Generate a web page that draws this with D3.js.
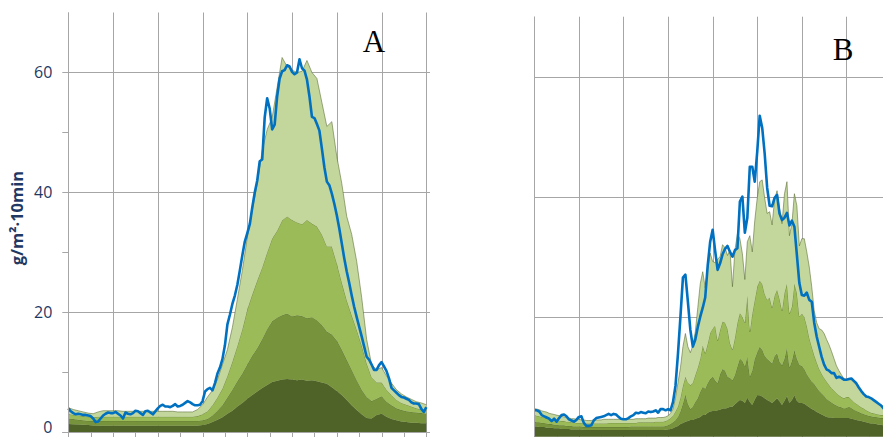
<!DOCTYPE html>
<html lang="en">
<head>
<meta charset="UTF-8">
<title>Deposition A / B</title>
<script src="https://d3js.org/d3.v7.min.js"></script>
<style>
  body { margin: 0; background: #fff; }
  svg { display: block; }
</style>
</head>
<body>
<div id="chart"></div>
<script>
// ---------- data ----------
var yTicks = [0, 20, 40, 60];
var yLabel = "g/m\u00B2\u00B710min";
var panelNames = ["A", "B"];

// panel A: measured flux (blue line), one value per step
var aMeasured = [
  4.0,3.5,3.2,3.0,3.1,3.0,2.9,2.9,2.8,2.7,
  2.3,1.7,1.8,2.3,2.8,3.1,3.3,3.2,3.2,3.4,
  3.1,2.8,2.3,3.3,3.1,3.0,3.2,3.6,3.5,3.2,
  2.9,3.5,3.6,3.3,3.0,3.5,4.0,4.4,4.6,4.3,
  4.3,4.2,4.4,4.7,4.3,4.4,4.6,4.9,5.2,5.0,
  4.7,4.5,4.5,4.6,5.2,6.8,7.2,7.4,7.0,8.2,
  9.8,10.8,12.2,14.5,18.0,19.6,21.4,22.8,24.6,27.0,
  29.5,31.8,33.2,34.7,37.5,40.0,42.0,45.2,45.5,52.5,
  55.7,54.0,50.5,51.3,56.0,59.0,60.2,60.4,61.2,61.0,
  60.1,59.7,60.0,62.2,60.7,60.3,58.8,56.0,52.6,52.4,
  51.4,50.3,47.3,44.2,41.8,41.2,39.8,38.1,36.2,34.0,
  31.5,29.0,26.8,24.9,22.8,20.9,19.2,17.6,16.0,14.3,
  12.6,12.1,11.3,10.4,10.4,11.2,11.7,11.0,10.2,9.0,
  7.4,7.0,6.6,6.2,5.9,5.8,5.6,5.4,5.0,4.8,
  4.8,4.7,3.9,3.4,4.2
];

// panel A: stacked bands, level of each band top (every second step)
var aBand1 = [
  1.4,1.35,1.3,1.25,1.2,1.15,1.1,1.1,1.1,1.1,
  1.1,1.1,1.1,1.1,1.1,1.1,1.1,1.1,1.1,1.1,
  1.1,1.1,1.1,1.1,1.1,1.1,1.1,1.2,1.4,1.7,
  2.1,2.5,3.1,3.6,4.3,4.9,5.6,6.2,6.8,7.4,
  7.9,8.4,8.6,8.8,8.9,8.8,8.7,8.8,8.6,8.7,
  8.5,8.3,8.1,7.5,6.9,6.2,5.4,4.5,3.7,3.0,
  2.4,2.3,2.9,3.1,2.6,2.2,2.0,1.8,1.7,1.6,
  1.6,1.5,1.5
];
var aBand2 = [
  2.3,2.2,2.1,2.0,1.9,1.9,1.9,1.9,1.9,1.9,
  1.9,1.9,1.9,1.9,1.9,1.9,1.9,1.9,1.9,1.9,
  1.9,1.9,1.9,1.9,1.9,1.9,1.9,2.0,2.2,2.8,
  3.6,4.5,5.8,7.1,8.5,9.8,11.3,12.8,14.0,15.5,
  17.2,18.5,19.1,19.5,19.8,19.3,19.5,19.4,19.0,19.2,
  18.7,17.9,16.8,16.3,15.3,13.8,12.1,10.4,8.7,7.1,
  5.9,5.2,5.6,6.0,5.1,4.5,4.0,3.7,3.5,3.4,
  3.3,3.2,3.1
];
var aBand3 = [
  3.1,2.9,2.8,2.7,2.6,2.5,2.6,2.6,2.6,2.6,
  2.6,2.6,2.6,2.6,2.6,2.6,2.6,2.6,2.6,2.6,
  2.6,2.6,2.6,2.6,2.6,2.6,2.7,3.0,3.5,4.5,
  5.8,7.3,9.4,11.8,14.4,17.2,20.5,23.0,25.3,27.5,
  30.0,32.3,33.6,35.3,36.0,35.4,35.0,34.7,35.4,34.8,
  34.3,33.0,31.0,31.0,28.2,25.0,22.0,19.5,17.1,14.5,
  11.5,9.2,8.3,8.3,7.1,6.2,5.4,4.9,4.6,4.3,
  4.0,3.8,3.7
];
var aBand4 = [
  4.1,3.8,3.6,3.4,3.2,3.1,3.4,3.6,3.6,3.6,
  3.6,3.5,3.5,3.5,3.5,3.5,3.5,3.5,3.5,3.5,
  3.5,3.5,3.4,3.4,3.4,3.4,3.8,4.6,5.9,7.0,
  8.8,11.3,13.8,17.5,22.2,27.0,32.5,37.0,41.5,47.0,
  50.5,52.5,57.5,62.5,61.0,60.4,60.0,60.2,62.0,60.0,
  59.0,55.0,51.0,51.8,46.0,41.5,36.0,33.0,28.5,22.5,
  15.5,11.3,10.4,10.8,9.4,8.2,7.1,6.4,5.9,5.5,
  5.1,4.9,4.6
];

// panel B: measured flux
var bMeasured = [
  4.4,4.4,4.2,3.6,3.4,3.2,3.0,2.6,3.0,2.5,
  3.1,3.6,3.7,3.4,2.9,2.7,2.5,2.8,3.3,3.4,
  2.3,1.8,1.8,1.9,2.7,3.1,3.2,3.3,3.4,3.6,
  3.8,3.6,3.8,3.7,3.3,3.0,2.9,2.9,3.1,3.4,
  3.6,4.0,3.9,4.1,4.0,3.9,4.2,4.1,4.2,4.4,
  4.0,4.6,4.6,4.4,4.6,4.4,5.8,8.5,13.8,20.0,
  26.5,27.0,22.5,17.8,15.0,16.2,18.3,20.0,21.5,23.2,
  28.5,32.5,34.5,31.0,27.8,28.9,30.4,31.3,31.8,30.8,
  30.0,31.1,31.4,39.2,40.0,34.0,36.5,45.0,45.0,42.5,
  47.5,53.5,51.5,47.2,41.5,38.5,38.4,39.8,40.3,37.2,
  36.1,36.5,37.3,35.2,36.0,35.0,30.3,25.6,23.6,23.5,
  24.0,22.8,22.5,19.0,16.7,15.0,13.3,12.0,11.2,11.0,
  10.6,10.6,9.8,10.0,9.8,9.5,9.5,9.6,9.7,9.3,
  8.9,8.2,7.6,7.1,6.7,6.6,6.4,6.1,5.8,5.5,
  5.2,4.7,4.4,4.2,4.0
];

// panel B: stacked bands, level of each band top (every step)
var bBand1 = [
  1.7,1.7,1.6,1.6,1.6,1.5,1.5,1.5,1.4,1.4,
  1.4,1.3,1.3,1.3,1.3,1.2,1.2,1.2,1.2,1.2,
  1.1,1.1,1.1,1.1,1.1,1.1,1.1,1.1,1.1,1.1,
  1.1,1.1,1.1,1.1,1.1,1.1,1.1,1.1,1.1,1.1,
  1.1,1.1,1.1,1.1,1.1,1.1,1.1,1.1,1.1,1.1,
  1.1,1.1,1.1,1.15,1.2,1.3,1.4,
  1.6,1.8,2.1,2.3,2.5,2.6,2.8,2.8,3.0,3.1,
  3.3,3.6,3.6,4.0,4.2,4.3,4.3,4.4,4.5,4.7,
  4.7,4.8,5.0,5.0,5.4,5.8,6.1,6.0,5.6,6.5,
  5.8,5.3,6.2,6.9,6.9,6.7,6.4,6.1,5.9,5.6,
  6.0,6.4,5.9,5.3,6.0,6.8,5.6,6.1,6.9,6.0,
  5.6,5.6,5.5,5.2,4.9,4.6,4.4,4.1,3.9,3.7,
  3.5,3.3,3.2,3.2,3.1,3.1,3.1,3.1,3.1,3.1,
  3.1,3.0,2.9,2.8,2.7,2.6,2.5,2.4,2.3,2.2,
  2.2,2.1,2.0,2.0,1.9,1.9,1.9,1.8
];
var bBand2 = [
  2.5,2.4,2.4,2.3,2.3,2.2,2.1,2.1,2.0,2.0,
  1.9,1.9,1.9,1.8,1.8,1.8,1.7,1.7,1.7,1.7,
  1.6,1.6,1.6,1.6,1.6,1.6,1.6,1.6,1.6,1.6,
  1.6,1.6,1.6,1.6,1.6,1.6,1.6,1.6,1.6,1.7,
  1.7,1.7,1.7,1.7,1.7,1.7,1.7,1.7,1.7,1.7,
  1.7,1.7,1.7,1.8,1.9,2.1,2.4,
  2.8,3.3,4.2,5.5,7.0,5.5,4.6,5.0,5.8,6.4,
  7.5,8.3,8.0,8.9,9.6,10.0,9.4,8.9,10.4,11.3,
  11.0,10.0,9.8,9.4,10.3,11.7,13.0,12.6,11.7,13.3,
  10.0,11.0,13.0,14.0,15.0,14.5,13.5,13.0,12.6,12.2,
  13.4,13.9,12.5,11.9,13.0,14.8,11.5,12.6,14.4,13.0,
  12.0,11.8,11.3,10.4,9.8,9.2,8.8,8.2,7.6,7.2,
  6.8,6.3,6.0,5.7,5.4,5.2,5.0,4.9,4.7,4.8,
  5.0,4.8,4.5,4.3,4.1,3.9,3.8,3.6,3.5,3.4,
  3.3,3.3,3.2,3.1,3.1,3.0,3.0,3.0
];
var bBand3 = [
  3.6,3.5,3.4,3.3,3.2,3.1,3.0,2.9,2.8,2.8,
  2.7,2.6,2.6,2.5,2.5,2.4,2.4,2.3,2.3,2.3,
  2.2,2.2,2.2,2.2,2.2,2.2,2.2,2.2,2.2,2.2,
  2.3,2.3,2.3,2.3,2.3,2.3,2.3,2.3,2.3,2.3,
  2.3,2.3,2.4,2.4,2.4,2.4,2.4,2.4,2.4,2.5,
  2.5,2.5,2.5,2.6,2.8,3.1,3.5,
  4.2,5.0,6.5,8.5,10.0,9.0,8.6,9.0,10.3,11.5,
  13.0,15.2,13.9,15.5,17.3,18.0,18.5,16.0,17.8,19.2,
  19.0,18.0,15.6,14.5,16.5,19.0,20.6,20.0,19.0,23.5,
  17.5,20.5,22.8,25.0,26.0,25.5,23.8,22.8,23.2,21.5,
  23.5,24.5,23.0,21.0,24.0,25.5,20.5,21.7,25.5,24.0,
  20.0,20.5,20.0,18.5,16.5,15.0,13.6,12.4,11.3,10.5,
  9.8,9.2,8.6,8.1,7.7,7.3,6.9,6.6,6.4,6.6,
  6.6,6.2,5.8,5.5,5.2,4.9,4.7,4.4,4.2,4.0,
  3.9,3.8,3.7,3.6,3.6,3.5,3.5,3.4
];
var bBand4 = [
  4.7,4.6,4.5,4.3,4.2,4.1,3.9,3.8,3.7,3.6,
  3.5,3.4,3.3,3.2,3.1,3.0,3.0,2.9,2.9,2.8,
  2.8,2.7,2.7,2.7,2.8,2.8,2.8,2.8,2.9,2.9,
  2.9,2.9,2.9,2.9,2.9,2.9,2.9,2.9,2.9,2.9,
  2.9,3.0,3.0,3.0,3.0,3.0,3.1,3.1,3.1,3.1,
  3.2,3.2,3.2,3.3,3.5,3.9,4.6,
  6.5,9.0,11.5,15.0,17.2,15.0,14.0,15.2,17.5,21.5,
  25.5,27.5,24.8,28.0,30.6,29.2,29.0,29.6,30.0,32.0,
  31.5,30.2,31.1,25.0,31.1,33.8,33.0,30.5,26.2,32.5,
  33.5,30.8,36.0,39.8,42.5,42.8,39.8,37.2,37.5,35.3,
  39.5,41.0,38.0,35.5,40.5,42.5,33.5,35.5,40.5,38.5,
  31.8,33.0,33.0,30.8,28.3,25.0,21.0,19.0,18.0,17.8,
  17.2,16.2,15.3,14.2,13.0,11.8,11.0,10.3,9.7,9.5,
  9.5,9.5,9.1,8.7,8.2,7.6,7.1,6.8,6.6,6.4,
  6.1,5.7,5.5,5.2,5.0,4.8,4.6,4.5
];

// ---------- drawing ----------
var width = 883, height = 437;
var bandColors = ["#4f6228", "#77933c", "#9bbb59", "#c3d69b"];
var gridColor = "#a6a6a6";
var textColor = "#1f3864";
var steps = 144;

var svg = d3.select("#chart").append("svg")
    .attr("width", width)
    .attr("height", height);

function drawPanel(p) {
  var x = d3.scaleLinear().domain([0, steps]).range([p.left, p.right]);
  var y = d3.scaleLinear().domain([0, 70]).range([p.bottom, p.top]);
  var g = svg.append("g");

  // vertical grid every 18 steps
  g.selectAll(".vgrid")
    .data(d3.range(0, steps + 1, 18))
    .enter().append("line")
      .attr("x1", function(d) { return Math.round(x(d)) + 0.5; })
      .attr("x2", function(d) { return Math.round(x(d)) + 0.5; })
      .attr("y1", p.top)
      .attr("y2", p.bottom + 5)
      .style("stroke", gridColor)
      .style("stroke-width", 1);

  // minor x ticks
  g.selectAll(".xminor")
    .data(d3.range(9, steps, 18))
    .enter().append("line")
      .attr("x1", function(d) { return Math.round(x(d)) + 0.5; })
      .attr("x2", function(d) { return Math.round(x(d)) + 0.5; })
      .attr("y1", p.bottom)
      .attr("y2", p.bottom + 5)
      .style("stroke", gridColor);

  // horizontal grid
  g.selectAll(".hgrid")
    .data(yTicks.slice(1))
    .enter().append("line")
      .attr("x1", p.left)
      .attr("x2", p.gridRight)
      .attr("y1", function(d) { return Math.round(y(d)) + 0.5; })
      .attr("y2", function(d) { return Math.round(y(d)) + 0.5; })
      .style("stroke", gridColor);

  // stacked bands
  var bands = p.bands;
  bands.forEach(function(band, k) {
    var lower = k === 0 ? null : bands[k - 1];
    var n = band.length;
    var pts = band.map(function(v, i) {
      return { t: i * steps / (n - 1), y0: lower ? lower[i] : 0, y1: v };
    });
    var area = d3.area()
      .x(function(d) { return x(d.t); })
      .y0(function(d) { return y(d.y0); })
      .y1(function(d) { return y(d.y1); });
    g.append("path")
      .datum(pts)
      .attr("d", area)
      .style("fill", bandColors[k])
      .style("stroke", "none");
    var edge = d3.line()
      .x(function(d) { return x(d.t); })
      .y(function(d) { return y(d.y1); });
    g.append("path")
      .datum(pts)
      .attr("d", edge)
      .style("fill", "none")
      .style("stroke", "#4f6228")
      .style("stroke-opacity", 0.75)
      .style("stroke-width", 0.7);
  });

  // measured line
  var m = p.measured;
  var line = d3.line()
    .x(function(d, i) { return x(i * steps / (m.length - 1)); })
    .y(function(d) { return y(d); });
  g.append("path")
    .datum(m)
    .attr("d", line)
    .style("fill", "none")
    .style("stroke", "#0070c0")
    .style("stroke-width", 2.6)
    .style("stroke-linejoin", "round");

  // axes lines
  g.append("line")
    .attr("x1", Math.round(p.left) + 0.5).attr("x2", Math.round(p.left) + 0.5)
    .attr("y1", p.top).attr("y2", p.bottom)
    .style("stroke", gridColor);
  g.append("line")
    .attr("x1", p.left - 6).attr("x2", p.gridRight)
    .attr("y1", Math.round(p.bottom) + 0.5).attr("y2", Math.round(p.bottom) + 0.5)
    .style("stroke", gridColor);

  if (p.showY) {
    g.selectAll(".ytick")
      .data(d3.range(0, 70, 10))
      .enter().append("line")
        .attr("x1", p.left - 6)
        .attr("x2", p.left)
        .attr("y1", function(d) { return Math.round(y(d)) + 0.5; })
        .attr("y2", function(d) { return Math.round(y(d)) + 0.5; })
        .style("stroke", gridColor);
    // the 0 label sits at the picture's bottom edge: lift it so it stays whole
    g.selectAll(".ylab")
      .data(yTicks)
      .enter().append("text")
        .attr("x", p.left - 16)
        .attr("y", function(d) { return d === 0 ? y(d) - 5.5 : y(d); })
        .attr("dy", "0.36em")
        .attr("text-anchor", "end")
        .style("font-family", "'Open Sans', sans-serif")
        .style("font-size", "16px")
        .style("fill", textColor)
        .text(function(d) { return d; });
    g.append("text")
      .attr("transform", "translate(23," + 218 + ") rotate(-90)")
      .attr("text-anchor", "middle")
      .style("font-family", "'Open Sans', sans-serif")
      .style("font-weight", "bold")
      .style("font-size", "16.5px")
      .style("fill", textColor)
      .text(yLabel);
  }

  g.append("text")
    .attr("x", p.nameX)
    .attr("y", p.nameY)
    .attr("text-anchor", "middle")
    .style("font-family", "'Liberation Serif', 'Times New Roman', serif")
    .style("font-size", "31px")
    .style("fill", "#000")
    .text(p.name);
}

drawPanel({
  name: panelNames[0], nameX: 374, nameY: 52,
  left: 68.3, right: 426.3, top: 12.5, bottom: 432.3, gridRight: 430,
  measured: aMeasured, bands: [aBand1, aBand2, aBand3, aBand4], showY: true
});
drawPanel({
  name: panelNames[1], nameX: 843, nameY: 60,
  left: 534.3, right: 891, top: 16.7, bottom: 436.7, gridRight: 891,
  measured: bMeasured, bands: [bBand1, bBand2, bBand3, bBand4], showY: false
});
</script>
</body>
</html>
